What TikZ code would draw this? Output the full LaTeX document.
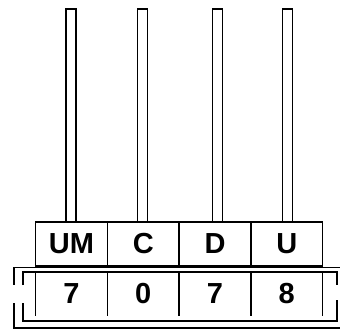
\documentclass[tikz,border=0pt]{standalone}
\usepackage{fontspec}
\setmainfont{Liberation Sans}
\usetikzlibrary{positioning}

\begin{document}
\begin{tikzpicture}[
  x=1pt, y=-1pt,
  font=\fontsize{29}{30}\selectfont\bfseries,
  every node/.style={align=center},
  %% ─── styles ───────────────────────────────────────────
  header/.style={
    draw=black, fill=white, line width=1.6pt, outer sep=0pt, inner sep=0pt,
    minimum width=71.75pt, minimum height=44pt},
  digit/.style={
    outer sep=0pt, inner sep=0pt,
    minimum width=71.75pt, minimum height=44pt},
  rod/.style={draw=black, fill=white, line width=1.8pt},
  frame/.style={draw=black, line width=1.6pt},
  sep/.style={draw=black, line width=1.6pt}
]
  \useasboundingbox (0,0) rectangle (340,329);

  %% ═══ header row (place values) ══════════════════════
  \node[header] (colum) at (71.5,244) {UM};
  \node[header, right=0pt of colum] (colc) {C};
  \node[header, right=0pt of colc] (cold) {D};
  \node[header, right=0pt of cold] (colu) {U};

  %% ═══ rods ═══════════════════════════════════════════
  \foreach \col/\dx in {colum/-0.5, colc/-0.75, cold/2.5, colu/0.75}
    \draw[rod] ([xshift=\dx pt-5pt]\col.north)
      rectangle ([xshift=\dx pt+5pt, yshift=213pt]\col.north);

  %% ═══ digit row ══════════════════════════════════════
  \node[digit, below=6pt of colum] (digum) {7};
  \node[digit, right=0pt of digum] (digc) {0};
  \node[digit, right=0pt of digc] (digd) {7};
  \node[digit, right=0pt of digd] (digu) {8};

  % column separators in digit row
  \foreach \cell in {digum,digc,digd,digu}
    \draw[sep] (\cell.north west) -- (\cell.south west);
  \draw[sep] (digu.north east) -- (digu.south east);

  %% ═══ bracket frames ═════════════════════════════════
  % outer
  \draw[frame] (345,267.5) -| (14,285);
  \draw[frame] (14,303) |- (345,328);
  % inner
  \draw[frame] (23,285) |- (337,272) -- (337,285);
  \draw[frame] (337,300) |- (23,321) -- (23,303);

\end{tikzpicture}
\end{document}
